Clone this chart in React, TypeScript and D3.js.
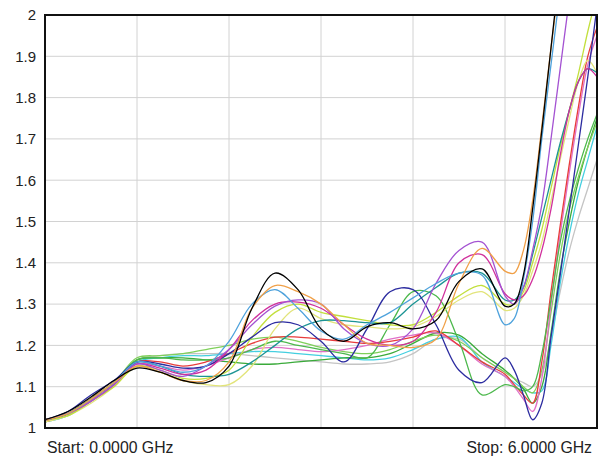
import React, { useEffect, useRef } from "react";
import * as d3 from "d3";

// frequency points (GHz), shared by every trace
const freqs = [
  0, 0.25, 0.5, 0.75, 1, 1.25, 1.5, 1.75, 2, 2.25, 2.5, 2.75, 3, 3.25, 3.5,
  3.75, 4, 4.25, 4.5, 4.75, 5, 5.1, 5.2, 5.3, 5.4, 5.5, 5.6, 5.7, 5.8, 5.9, 6,
];

const blackTrace = [
  1.02, 1.04, 1.075, 1.115, 1.145, 1.135, 1.115, 1.11, 1.15, 1.29, 1.375,
  1.335, 1.24, 1.21, 1.245, 1.255, 1.24, 1.26, 1.355, 1.385, 1.295, 1.3, 1.37,
  1.53, 1.72, 1.92, 2.12, 2.3, 2.5, 2.7, 2.9,
];
const orangeTrace = [
  1.02, 1.035, 1.07, 1.11, 1.15, 1.135, 1.115, 1.115, 1.16, 1.29, 1.345, 1.33,
  1.3, 1.25, 1.205, 1.2, 1.195, 1.215, 1.35, 1.435, 1.38, 1.375, 1.43, 1.55,
  1.73, 1.92, 2.1, 2.3, 2.5, 2.7, 2.9,
];
const lightBlueTrace = [
  1.02, 1.035, 1.07, 1.11, 1.16, 1.15, 1.135, 1.15, 1.21, 1.3, 1.335, 1.29,
  1.235, 1.215, 1.25, 1.28, 1.315, 1.35, 1.375, 1.37, 1.25, 1.265, 1.36, 1.5,
  1.7, 1.88, 2.06, 2.25, 2.45, 2.6, 2.8,
];
const purpleTrace = [
  1.02, 1.035, 1.065, 1.105, 1.155, 1.14, 1.125, 1.15, 1.19, 1.25, 1.295, 1.31,
  1.3, 1.24, 1.205, 1.2, 1.24, 1.35, 1.43, 1.45, 1.32, 1.3, 1.34, 1.43, 1.54,
  1.7, 1.87, 2.04, 2.2, 2.4, 2.6,
];
const magentaTrace = [
  1.02, 1.035, 1.065, 1.105, 1.155, 1.145, 1.13, 1.14, 1.19, 1.26, 1.3, 1.305,
  1.29, 1.25, 1.215, 1.2, 1.21, 1.28, 1.4, 1.42, 1.325, 1.31, 1.32, 1.36, 1.43,
  1.53, 1.66, 1.77, 1.84, 1.87, 1.85,
];
const yellowGreenTrace = [
  1.02, 1.03, 1.065, 1.1, 1.15, 1.14, 1.12, 1.12, 1.14, 1.22, 1.28, 1.3, 1.28,
  1.27, 1.26, 1.25, 1.25, 1.28, 1.32, 1.345, 1.3, 1.3, 1.33, 1.4, 1.48, 1.58,
  1.68, 1.77, 1.86, 1.96, 2.05,
];
const lightYellowTrace = [
  1.015, 1.03, 1.06, 1.1, 1.15, 1.135, 1.115, 1.105, 1.105, 1.15, 1.24, 1.29,
  1.265, 1.25, 1.245, 1.24, 1.245, 1.27, 1.31, 1.33, 1.285, 1.29, 1.32, 1.38,
  1.45, 1.55, 1.65, 1.75, 1.84, 1.89, 1.86,
];
const tealTrace = [
  1.02, 1.035, 1.07, 1.11, 1.16, 1.15, 1.13, 1.125, 1.13, 1.16, 1.2, 1.24,
  1.26, 1.26, 1.255, 1.255, 1.3, 1.34, 1.375, 1.375, 1.31, 1.31, 1.34, 1.42,
  1.51, 1.6, 1.69, 1.77, 1.84, 1.87, 1.86,
];
const navyTrace = [
  1.02, 1.04, 1.08, 1.115, 1.16, 1.155, 1.145, 1.15, 1.18, 1.22, 1.255, 1.25,
  1.21, 1.16, 1.24, 1.33, 1.335, 1.25, 1.14, 1.11, 1.17, 1.14, 1.08, 1.02,
  1.06, 1.22, 1.37, 1.53, 1.69, 1.85, 2.02,
];
const greenTrace = [
  1.02, 1.035, 1.07, 1.11, 1.165, 1.17, 1.165, 1.165, 1.17, 1.19, 1.21, 1.2,
  1.19, 1.18, 1.17, 1.25, 1.33, 1.32, 1.21, 1.08, 1.105, 1.1, 1.09, 1.1, 1.18,
  1.31, 1.45, 1.55, 1.63, 1.7, 1.76,
];
const lightGreenTrace = [
  1.015, 1.035, 1.07, 1.11, 1.17, 1.175, 1.18, 1.19, 1.2, 1.215, 1.22, 1.21,
  1.195, 1.185, 1.18, 1.19, 1.21, 1.225, 1.21, 1.17, 1.135, 1.12, 1.1, 1.085,
  1.14, 1.28, 1.42, 1.53, 1.61, 1.68, 1.74,
];
const darkGreenTrace = [
  1.015, 1.035, 1.07, 1.11, 1.165, 1.17, 1.17, 1.165, 1.16, 1.155, 1.155, 1.16,
  1.165, 1.17, 1.17, 1.18, 1.205, 1.23, 1.225, 1.18, 1.14, 1.12, 1.095, 1.06,
  1.1, 1.23, 1.38, 1.5, 1.6, 1.68, 1.75,
];
const redTrace = [
  1.015, 1.035, 1.07, 1.11, 1.16, 1.16, 1.15, 1.16, 1.18, 1.205, 1.22, 1.22,
  1.215, 1.21, 1.205, 1.21, 1.22, 1.235, 1.2, 1.16, 1.13, 1.105, 1.08, 1.06,
  1.16, 1.33, 1.49, 1.64, 1.78, 1.9, 1.97,
];
const pinkTrace = [
  1.015, 1.035, 1.065, 1.105, 1.155, 1.15, 1.14, 1.15, 1.17, 1.19, 1.195, 1.19,
  1.185, 1.19, 1.2, 1.215, 1.225, 1.23, 1.2, 1.155, 1.125, 1.1, 1.07, 1.04,
  1.12, 1.3, 1.47, 1.62, 1.76, 1.88, 1.95,
];
const cyanTrace = [
  1.015, 1.03, 1.065, 1.105, 1.16, 1.17, 1.175, 1.175, 1.18, 1.185, 1.185,
  1.18, 1.175, 1.17, 1.165, 1.17, 1.19, 1.215, 1.22, 1.16, 1.125, 1.11, 1.095,
  1.085, 1.09, 1.2, 1.35, 1.47, 1.57, 1.65, 1.73,
];
const grayTrace = [
  1.015, 1.03, 1.065, 1.105, 1.165, 1.175, 1.18, 1.18, 1.18, 1.175, 1.17,
  1.165, 1.16, 1.155, 1.155, 1.16, 1.18, 1.215, 1.215, 1.17, 1.135, 1.12, 1.11,
  1.1, 1.13, 1.22, 1.33, 1.43, 1.51, 1.58, 1.65,
];

const traces = [
  { values: grayTrace, color: "#c4c4c4" },
  { values: cyanTrace, color: "#44cfe0" },
  { values: darkGreenTrace, color: "#3aaa3a" },
  { values: lightGreenTrace, color: "#7fd05a" },
  { values: pinkTrace, color: "#e070c8" },
  { values: redTrace, color: "#e83c3c" },
  { values: greenTrace, color: "#4cb84c" },
  { values: lightYellowTrace, color: "#e2e47a" },
  { values: yellowGreenTrace, color: "#c2df3c" },
  { values: tealTrace, color: "#1c9494" },
  { values: navyTrace, color: "#2c2ca0" },
  { values: magentaTrace, color: "#d0309c" },
  { values: purpleTrace, color: "#a452d2" },
  { values: lightBlueTrace, color: "#4ea2dc" },
  { values: orangeTrace, color: "#f0a048" },
  { values: blackTrace, color: "#000000" },
];

const yTicks = [1, 1.1, 1.2, 1.3, 1.4, 1.5, 1.6, 1.7, 1.8, 1.9, 2];
const xTicks = [0, 1, 2, 3, 4, 5, 6];
const startLabel = "Start: 0.0000 GHz";
const stopLabel = "Stop: 6.0000 GHz";

const App = () => {
  const chartRef = useRef<SVGSVGElement | null>(null);

  useEffect(() => {
    document.body.style.margin = "0";
    if (!chartRef.current) return;
    const svg = d3.select(chartRef.current);
    svg.selectAll("*").remove();

    const width = 603;
    const height = 457;
    const margin = { top: 15, right: 6, bottom: 29, left: 45 };

    const x = d3
      .scaleLinear()
      .domain([0, 6])
      .range([margin.left, width - margin.right]);
    const y = d3
      .scaleLinear()
      .domain([1, 2])
      .range([height - margin.bottom, margin.top]);

    svg
      .append("rect")
      .attr("width", width)
      .attr("height", height)
      .attr("fill", "#ffffff");

    svg
      .append("defs")
      .append("clipPath")
      .attr("id", "plot-clip")
      .append("rect")
      .attr("x", x(0))
      .attr("y", y(2))
      .attr("width", x(6) - x(0))
      .attr("height", y(1) - y(2));

    // grid
    const grid = svg.append("g");
    grid
      .selectAll("line.h")
      .data(yTicks)
      .join("line")
      .attr("x1", x(0))
      .attr("x2", x(6))
      .attr("y1", (d) => y(d))
      .attr("y2", (d) => y(d))
      .attr("stroke", "#d2d2d2")
      .attr("stroke-width", 1);
    grid
      .selectAll("line.v")
      .data(xTicks)
      .join("line")
      .attr("x1", (d) => x(d))
      .attr("x2", (d) => x(d))
      .attr("y1", y(1))
      .attr("y2", y(2))
      .attr("stroke", "#d2d2d2")
      .attr("stroke-width", 1);

    const line = d3
      .line<number>()
      .x((_, i) => x(freqs[i]))
      .y((d) => y(d))
      .curve(d3.curveCatmullRom.alpha(0.5));

    svg
      .append("g")
      .attr("clip-path", "url(#plot-clip)")
      .selectAll("path")
      .data(traces)
      .join("path")
      .attr("d", (d) => line(d.values))
      .attr("fill", "none")
      .attr("stroke", (d) => d.color)
      .attr("stroke-width", 1.3);

    // frame
    svg
      .append("rect")
      .attr("x", x(0))
      .attr("y", y(2))
      .attr("width", x(6) - x(0))
      .attr("height", y(1) - y(2))
      .attr("fill", "none")
      .attr("stroke", "#111")
      .attr("stroke-width", 2);

    const yAxis = svg
      .append("g")
      .attr("transform", `translate(${margin.left},0)`)
      .call(
        d3
          .axisLeft(y)
          .tickValues(yTicks)
          .tickSize(0)
          .tickPadding(9)
          .tickFormat((d) => String(+(+d).toFixed(1)))
      );
    yAxis.select(".domain").remove();
    yAxis
      .selectAll("text")
      .attr("font-family", "'Liberation Sans', Arial, sans-serif")
      .attr("font-size", 15)
      .attr("fill", "#222");

    svg
      .append("text")
      .attr("x", x(0) + 2)
      .attr("y", height - 4)
      .attr("font-family", "'Liberation Sans', Arial, sans-serif")
      .attr("font-size", 15.8)
      .attr("fill", "#222")
      .text(startLabel);
    svg
      .append("text")
      .attr("x", x(6) - 5)
      .attr("y", height - 4)
      .attr("text-anchor", "end")
      .attr("font-family", "'Liberation Sans', Arial, sans-serif")
      .attr("font-size", 15.8)
      .attr("fill", "#222")
      .text(stopLabel);
  }, []);

  return (
    <svg
      ref={chartRef}
      width={603}
      height={457}
      style={{ display: "block" }}
    ></svg>
  );
};

export default App;
